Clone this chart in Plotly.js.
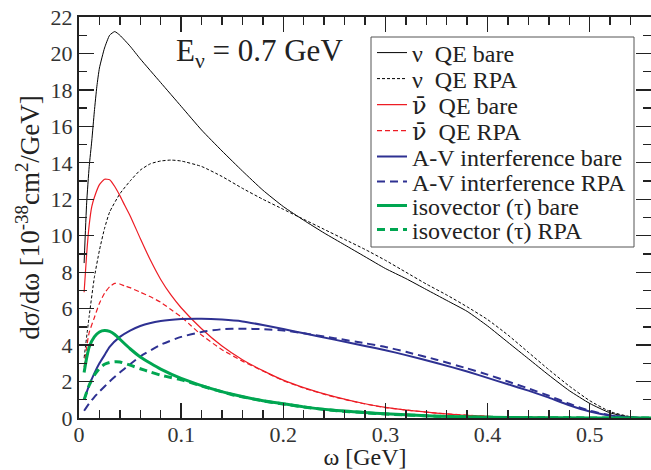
<!DOCTYPE html>
<html><head><meta charset="utf-8">
<script src="https://cdn.plot.ly/plotly-3.0.1.min.js"></script>
<style>body{margin:0;padding:0;background:#fff}#chart{width:651px;height:470px}</style>
</head><body><div id="chart"></div>
<script>
// omega [GeV] grids and values [10^-38 cm^2/GeV]
const nuBareX = [0.005,0.0075,0.01,0.0125,0.015,0.0175,0.02,0.025,0.03,0.035,0.04,0.05,0.06,0.08,0.1,0.12,0.14,0.16,0.18,0.2,0.22,0.24,0.26,0.28,0.3,0.32,0.34,0.36,0.38,0.4,0.42,0.44,0.46,0.48,0.5,0.52,0.54,0.56];
const nuBareY = [8.5,11.8,13.8,15.2,16.8,18.2,19.2,20.3,21.0,21.2,21.0,20.4,19.7,18.4,17.1,15.8,14.65,13.55,12.5,11.6,10.85,10.15,9.5,8.85,8.2,7.65,7.05,6.45,5.85,5.05,4.15,3.25,2.35,1.5,0.8,0.28,0.05,0.0];
const nuRpaX = [0.005,0.01,0.015,0.02,0.025,0.03,0.04,0.05,0.06,0.07,0.08,0.09,0.1,0.12,0.14,0.16,0.18,0.2,0.22,0.24,0.26,0.28,0.3,0.32,0.34,0.36,0.38,0.4,0.42,0.44,0.46,0.48,0.5,0.52,0.54,0.56];
const nuRpaY = [3.3,5.6,7.7,9.2,10.4,11.3,12.3,13.0,13.6,13.95,14.1,14.15,14.1,13.8,13.25,12.6,12.0,11.45,10.9,10.35,9.8,9.25,8.65,8.0,7.35,6.75,6.1,5.4,4.55,3.6,2.65,1.75,0.95,0.35,0.07,0.0];
const nubBareX = [0.005,0.0075,0.01,0.0125,0.015,0.02,0.025,0.03,0.035,0.04,0.045,0.05,0.06,0.07,0.08,0.09,0.1,0.12,0.14,0.16,0.18,0.2,0.22,0.25,0.28,0.3,0.35,0.4,0.45,0.5,0.56];
const nubBareY = [6.9,9.0,10.6,11.6,12.1,12.8,13.1,13.07,12.7,12.2,11.64,11.1,9.85,8.65,7.6,6.75,6.05,4.9,3.95,3.2,2.6,2.08,1.67,1.17,0.78,0.58,0.27,0.09,0.03,0.01,0.0];
const nubRpaX = [0.005,0.0075,0.01,0.015,0.02,0.025,0.03,0.035,0.04,0.045,0.05,0.06,0.07,0.08,0.09,0.1,0.11,0.12,0.14,0.16,0.18,0.2,0.22,0.25,0.28,0.3,0.35,0.4,0.45,0.5,0.56];
const nubRpaY = [2.8,3.9,4.7,5.5,6.3,6.85,7.2,7.39,7.35,7.24,7.15,6.9,6.65,6.35,5.95,5.55,5.05,4.55,3.75,3.12,2.58,2.05,1.64,1.15,0.77,0.57,0.27,0.09,0.03,0.01,0.0];
const avBareX = [0.005,0.01,0.015,0.02,0.025,0.03,0.04,0.05,0.06,0.08,0.1,0.12,0.14,0.16,0.18,0.2,0.22,0.25,0.28,0.3,0.32,0.35,0.38,0.4,0.42,0.44,0.46,0.48,0.5,0.52,0.54,0.56];
const avBareY = [1.0,1.8,2.45,3.0,3.45,3.9,4.45,4.8,5.05,5.32,5.43,5.45,5.4,5.3,5.1,4.88,4.65,4.3,3.95,3.72,3.45,3.02,2.55,2.2,1.85,1.5,1.12,0.7,0.36,0.14,0.03,0.0];
const avRpaX = [0.005,0.01,0.015,0.02,0.03,0.04,0.05,0.06,0.08,0.1,0.12,0.14,0.16,0.18,0.2,0.22,0.25,0.28,0.3,0.32,0.35,0.38,0.4,0.42,0.44,0.46,0.48,0.5,0.52,0.54,0.56];
const avRpaY = [0.4,0.8,1.15,1.45,2.0,2.5,2.95,3.38,4.02,4.45,4.72,4.87,4.9,4.87,4.8,4.65,4.38,4.1,3.9,3.63,3.2,2.72,2.38,2.0,1.62,1.22,0.78,0.4,0.15,0.03,0.0];
const isoBareX = [0.005,0.0075,0.01,0.015,0.02,0.025,0.03,0.035,0.04,0.05,0.06,0.07,0.08,0.1,0.12,0.15,0.18,0.2,0.22,0.25,0.28,0.3,0.35,0.4,0.45,0.5,0.56];
const isoBareY = [2.5,3.3,3.9,4.45,4.72,4.8,4.75,4.58,4.32,3.8,3.35,3.0,2.68,2.17,1.78,1.3,0.95,0.78,0.61,0.42,0.3,0.23,0.1,0.04,0.015,0.005,0.0];
const isoRpaX = [0.005,0.01,0.015,0.02,0.025,0.03,0.035,0.04,0.05,0.06,0.07,0.08,0.09,0.1,0.12,0.15,0.18,0.2,0.22,0.25,0.28,0.3,0.35,0.4,0.45,0.5,0.56];
const isoRpaY = [1.0,1.8,2.35,2.72,2.95,3.05,3.08,3.07,2.9,2.7,2.52,2.35,2.22,2.1,1.76,1.28,0.94,0.77,0.6,0.41,0.29,0.22,0.1,0.04,0.015,0.005,0.0];

const SP = '\u00a0\u00a0';
const NUBAR = '<span style="font-family:DejaVu Serif">ν\u0304</span>';
const names = ['ν'+SP+'QE bare','ν'+SP+'QE RPA',NUBAR+SP+'QE bare',NUBAR+SP+'QE RPA','A-V interference bare','A-V interference RPA','isovector (τ) bare','isovector (τ) RPA'];
const xTickVals = [0,0.1,0.2,0.3,0.4,0.5];
const xTickText = ['0','0.1','0.2','0.3','0.4','0.5'];
const yTickVals = [0,2,4,6,8,10,12,14,16,18,20,22];

const RED='#ed1c24', BLUE='#2e3192', GREEN='#00a651';
const legIds = ['legend','legend2','legend3','legend4','legend5','legend6','legend7','legend8'];
function tr(i,x,y,color,width,dash){
  return {x:x,y:y,name:names[i],legend:legIds[i],type:'scatter',mode:'lines',
          line:{color:color,width:width,dash:dash,shape:'spline',smoothing:0.5}};
}
const data = [
  tr(0,nuBareX,nuBareY,'#000',1,'solid'),
  tr(1,nuRpaX,nuRpaY,'#000',1,'3px,2px'),
  tr(2,nubBareX,nubBareY,RED,1.2,'solid'),
  tr(3,nubRpaX,nubRpaY,RED,1.2,'5px,3px'),
  tr(4,avBareX,avBareY,BLUE,2,'solid'),
  tr(5,avRpaX,avRpaY,BLUE,2,'8px,5px'),
  tr(6,isoBareX,isoBareY,GREEN,3,'solid'),
  tr(7,isoRpaX,isoRpaY,GREEN,3,'8px,5px')
];
const F = 'Liberation Serif';
// plot area: left 79, top 17, width 572, height 401
const rowPx = [53,79,105,131,157,182,206,230];
const layout = {
  width:651,height:470,
  margin:{l:79,r:0,t:17,b:52},
  paper_bgcolor:'#fff',plot_bgcolor:'#fff',
  font:{family:F,size:20,color:'#222'},
  showlegend:true,
  xaxis:{range:[0,0.56],tickvals:xTickVals,ticktext:xTickText,ticks:'inside',ticklen:15,tickwidth:1.3,tickcolor:'#222',
         showline:true,linewidth:2,linecolor:'#222',mirror:'allticks',showgrid:false,zeroline:false,
         minor:{dtick:0.02,ticks:'inside',ticklen:8,tickwidth:1.3,tickcolor:'#222',showgrid:false},
         tickfont:{family:F,size:22,color:'#333'},ticklabelstandoff:-4,
         title:{text:'ω [GeV]',font:{family:F,size:24,color:'#222'},standoff:9}},
  yaxis:{range:[0,22],tickvals:yTickVals,ticks:'inside',ticklen:15,tickwidth:1.3,tickcolor:'#222',
         showline:true,linewidth:2,linecolor:'#222',mirror:'allticks',showgrid:false,zeroline:false,
         minor:{dtick:1,ticks:'inside',ticklen:8,tickwidth:1.3,tickcolor:'#222',showgrid:false},
         tickfont:{family:F,size:22,color:'#333'},
         title:{text:'dσ/dω [10<sup>-38</sup>cm<sup>2</sup>/GeV]',font:{family:F,size:27,color:'#222'},standoff:3}},
  shapes:[{type:'rect',xref:'paper',yref:'paper',x0:(371-79)/572,x1:(634-79)/572,y0:(418-247)/401,y1:(418-37)/401,
           fillcolor:'#fff',line:{color:'#555',width:1},layer:'above'}],
  annotations:[{xref:'x',yref:'y',x:0.177,y:20.0,text:'E<sub>ν</sub> = 0.7 GeV',showarrow:false,
                font:{family:F,size:31,color:'#222'}}]
};
legIds.forEach((id,i)=>{
  layout[id] = {x:(372-79)/572,y:(418-rowPx[i])/401,xanchor:'left',yanchor:'middle',bgcolor:'rgba(0,0,0,0)',
                borderwidth:0,font:{family:F,size:24,color:'#222'},itemwidth:30};
});
Plotly.newPlot('chart',data,layout,{displayModeBar:false,staticPlot:true});
</script></body></html>
